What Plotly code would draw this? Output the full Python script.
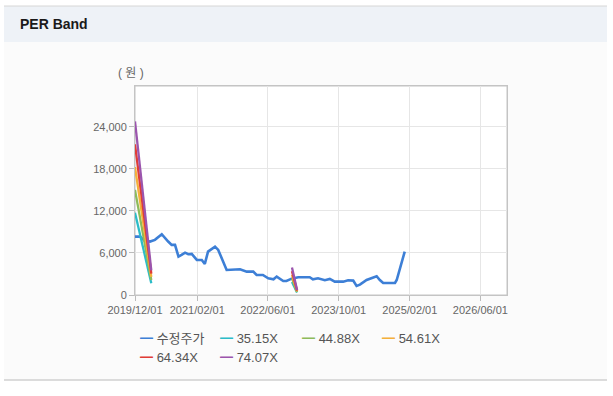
import plotly.graph_objects as go

# ---------------- data ----------------
price_dates = [
    "2019-12-01", "2020-01-05", "2020-02-01", "2020-03-13", "2020-04-16", "2020-06-02",
    "2020-07-16", "2020-08-09", "2020-09-01", "2020-09-25", "2020-10-16", "2020-11-09",
    "2020-12-01", "2020-12-25", "2021-01-29", "2021-03-04", "2021-03-25", "2021-04-16",
    "2021-06-03", "2021-06-25", "2021-08-22", "2021-11-01", "2021-11-22", "2022-01-07",
    "2022-02-21", "2022-03-16", "2022-04-28", "2022-06-04", "2022-07-10", "2022-08-01",
    "2022-09-15", "2022-10-07", "2022-11-12", "2022-12-27", "2023-03-16", "2023-04-07",
    "2023-05-12", "2023-06-28", "2023-08-01", "2023-09-04", "2023-11-01", "2023-12-05",
    "2024-01-09", "2024-02-01", "2024-02-24", "2024-04-10", "2024-05-25", "2024-06-18",
    "2024-07-10", "2024-08-02", "2024-10-22", "2024-11-03", "2024-12-28",
]
price_values = [
    8330, 8330, 7800, 7620, 7860, 8670,
    7620, 7140, 7140, 5470, 5710, 6040,
    5810, 5860, 5000, 5000, 4430, 6190,
    6900, 6430, 3570, 3570, 3670, 3330,
    3330, 2860, 2860, 2380, 2240, 2620,
    2000, 2000, 2330, 2530, 2530, 2240,
    2380, 2100, 2290, 1900, 1900, 2100,
    2050, 1290, 1480, 2140, 2480, 2670,
    2140, 1710, 1710, 2140, 6190,
]

band_dates = [
    "2019-12-01", "2019-12-15", "2019-12-29", "2020-01-12", "2020-01-26",
    "2020-02-09", "2020-02-23", "2020-03-08", "2020-03-22",
    "2021-06-01",
    "2022-11-14", "2022-11-21", "2022-11-28", "2022-12-05", "2022-12-12", "2022-12-19",
]
band_35 = [11740, 10470, 9210, 7980, 6710, 5450, 4180, 2920, 1670, None,
           1860, 1550, 1230, 950, 630, 340]
band_44 = [14990, 13370, 11760, 10190, 8570, 6960, 5340, 3730, 2130, None,
           2370, 1970, 1570, 1210, 810, 430]
band_54 = [18240, 16270, 14310, 12400, 10430, 8460, 6500, 4530, 2590, None,
           2880, 2400, 1910, 1470, 980, 520]
band_64 = [21490, 19170, 16860, 14600, 12290, 9970, 7660, 5340, 3060, None,
           3400, 2830, 2250, 1740, 1160, 620]
band_74 = [24740, 22100, 19400, 16800, 14150, 11480, 8820, 6150, 3520, None,
           3910, 3260, 2590, 2000, 1330, 710]

series_names = ["수정주가", "35.15X", "44.88X", "54.61X", "64.34X", "74.07X"]
series_colors = ["#3d7fd6", "#2bbcc8", "#8dbb5a", "#f4b03a", "#e03c36", "#9b55ad"]

x_tick_vals = ["2019-12-01", "2021-02-01", "2022-06-01", "2023-10-01", "2025-02-01", "2026-06-01"]
x_tick_text = ["2019/12/01", "2021/02/01", "2022/06/01", "2023/10/01", "2025/02/01", "2026/06/01"]
y_tick_vals = [0, 6000, 12000, 18000, 24000]
y_tick_text = ["0", "6,000", "12,000", "18,000", "24,000"]

# ---------------- geometry helpers ----------------
W, H = 613, 396
PL, PR, PT, PB = 135, 507, 86, 295  # plot area in pixels


def px(x):
    return (x - PL) / (PR - PL)


def py(y):
    return (PB - y) / (PB - PT)


FONT = "Liberation Sans, Arial, Noto Sans CJK KR, sans-serif"

fig = go.Figure()

fig.add_trace(go.Scatter(x=price_dates, y=price_values, mode="lines", name=series_names[0],
                         line=dict(color=series_colors[0], width=2.6), showlegend=False))
for name, col, vals in zip(series_names[1:], series_colors[1:],
                           [band_35, band_44, band_54, band_64, band_74]):
    fig.add_trace(go.Scatter(x=band_dates, y=vals, mode="lines", name=name,
                             line=dict(color=col, width=2.3), connectgaps=False,
                             showlegend=False))

shapes = [
    # body background
    dict(type="rect", xref="paper", yref="paper", x0=px(4), x1=px(607), y0=py(380), y1=py(42),
         fillcolor="#fbfbfb", line=dict(width=0), layer="below"),
    # header
    dict(type="rect", xref="paper", yref="paper", x0=px(4), x1=px(607), y0=py(42), y1=py(6),
         fillcolor="#eef2f7", line=dict(width=0), layer="below"),
    dict(type="line", xref="paper", yref="paper", x0=px(4), x1=px(607), y0=py(6), y1=py(6),
         line=dict(color="#d6d6d6", width=1)),
    dict(type="line", xref="paper", yref="paper", x0=px(4), x1=px(607), y0=py(380), y1=py(380),
         line=dict(color="#d0d0d0", width=1.5)),
    # plot area white
    dict(type="rect", xref="paper", yref="paper", x0=0, x1=1, y0=0, y1=1,
         fillcolor="white", line=dict(color="#c4c4c4", width=1), layer="below"),
]

annotations = [
    dict(text="<b>PER Band</b>", xref="paper", yref="paper", x=px(18), y=py(24),
         xanchor="left", yanchor="middle", showarrow=False,
         font=dict(family=FONT, size=14, color="#1a1a1a")),
    dict(text="( 원 )", xref="paper", yref="paper", x=px(131), y=py(73),
         xanchor="center", yanchor="middle", showarrow=False,
         font=dict(family=FONT, size=12, color="#666666")),
]

# legend entries (two rows, four columns)
legend_pos = [(140, 338), (220, 338), (302, 338), (382, 338), (140, 357), (220, 357)]
for (lx, ly), name, col in zip(legend_pos, series_names, series_colors):
    annotations.append(dict(
        text=f"<span style='color:{col}'>━</span> {name}",
        xref="paper", yref="paper", x=px(lx - 2), y=py(ly),
        xanchor="left", yanchor="middle", showarrow=False,
        font=dict(family=FONT, size=13, color="#555555")))

fig.update_layout(
    width=W, height=H,
    margin=dict(l=PL, r=W - PR, t=PT, b=H - PB, pad=0),
    paper_bgcolor="white", plot_bgcolor="white",
    shapes=shapes, annotations=annotations,
    font=dict(family=FONT, size=11, color="#666666"),
    showlegend=False,
    xaxis=dict(type="date", range=["2019-12-01", "2026-12-01"],
               tickvals=x_tick_vals, ticktext=x_tick_text,
               showgrid=True, gridcolor="#e6e6e6", gridwidth=1,
               ticks="outside", ticklen=5, tickcolor="#bbbbbb",
               showline=True, linecolor="#c4c4c4", mirror=True, zeroline=False,
               tickfont=dict(size=11, color="#666666")),
    yaxis=dict(range=[0, 29800], tickvals=y_tick_vals, ticktext=y_tick_text,
               showgrid=True, gridcolor="#e6e6e6", gridwidth=1,
               ticks="outside", ticklen=5, tickcolor="#bbbbbb",
               showline=True, linecolor="#c4c4c4", mirror=True, zeroline=False,
               tickfont=dict(size=11, color="#666666")),
)

fig.write_html("out.html", config={"displayModeBar": False},
               post_script="document.body.style.margin='0';")
